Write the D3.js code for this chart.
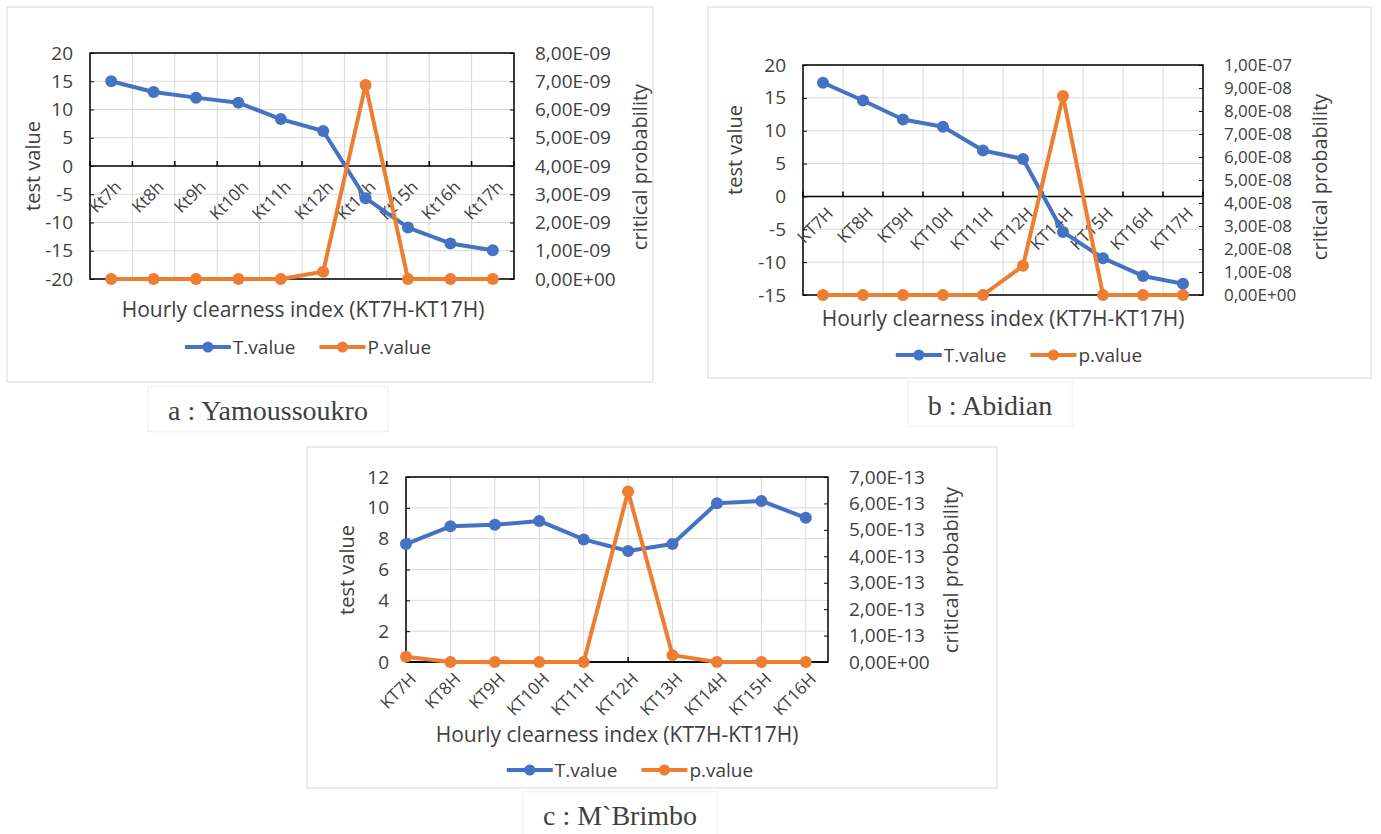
<!DOCTYPE html>
<html>
<head>
<meta charset="utf-8">
<script src="https://cdn.jsdelivr.net/npm/d3@7"></script>
<style>
  body { margin: 0; background: #fff; }
  text { font-family: "Open Sans", sans-serif; fill: #404040; }
</style>
</head>
<body>
<svg id="chart" width="1381" height="834"></svg>
<script>
// a : Yamoussoukro
const catsA = ["Kt7h", "Kt8h", "Kt9h", "Kt10h", "Kt11h", "Kt12h", "Kt14h", "Kt15h", "Kt16h", "Kt17h"];
const tValA = [15.0, 13.1, 12.1, 11.2, 8.3, 6.2, -5.7, -10.9, -13.7, -14.9];
const pValA = [0, 0, 0, 0, 0, 0.26e-9, 6.87e-9, 0, 0, 0];
const leftTicksA = [-20, -15, -10, -5, 0, 5, 10, 15, 20];
const rightTicksA = [0, 1e-9, 2e-9, 3e-9, 4e-9, 5e-9, 6e-9, 7e-9, 8e-9];

// b : Abidian
const catsB = ["KT7H", "KT8H", "KT9H", "KT10H", "KT11H", "KT12H", "KT14H", "KT15H", "KT16H", "KT17H"];
const tValB = [17.3, 14.6, 11.7, 10.6, 7.0, 5.7, -5.4, -9.4, -12.1, -13.3];
const pValB = [0, 0, 0, 0, 0, 1.27e-8, 8.65e-8, 0, 0, 0];
const leftTicksB = [-15, -10, -5, 0, 5, 10, 15, 20];
const rightTicksB = [0, 1e-8, 2e-8, 3e-8, 4e-8, 5e-8, 6e-8, 7e-8, 8e-8, 9e-8, 1e-7];

// c : M`Brimbo
const catsC = ["KT7H", "KT8H", "KT9H", "KT10H", "KT11H", "KT12H", "KT13H", "KT14H", "KT15H", "KT16H"];
const tValC = [7.65, 8.8, 8.9, 9.15, 7.95, 7.2, 7.65, 10.3, 10.45, 9.35];
const pValC = [0.2e-13, 0, 0, 0, 0, 6.45e-13, 0.26e-13, 0, 0, 0];
const leftTicksC = [0, 2, 4, 6, 8, 10, 12];
const rightTicksC = [0, 1e-13, 2e-13, 3e-13, 4e-13, 5e-13, 6e-13, 7e-13];

const blue = "#4472C4", orange = "#ED7D31";
const svg = d3.select("#chart");

// 8e-9 -> "8,00E-09" (excel style with decimal comma)
function sci(v) {
  if (v === 0) return "0,00E+00";
  const parts = v.toExponential(2).split("e");
  const n = +parts[1];
  return parts[0].replace(".", ",") + "E" + (n < 0 ? "-" : "+") + String(Math.abs(n)).padStart(2, "0");
}

function drawPanel(p) {
  const g = svg.append("g");

  g.append("rect")
    .attr("x", p.box[0]).attr("y", p.box[1])
    .attr("width", p.box[2]).attr("height", p.box[3])
    .attr("fill", "#fff").attr("stroke", "#d9d9d9");

  const yL = d3.scaleLinear().domain(d3.extent(p.leftTicks)).range([p.y1, p.y0]);
  const yR = d3.scaleLinear().domain(d3.extent(p.rightTicks)).range([p.y1, p.y0]);

  let pos, gridX;
  if (p.onTicks) {
    // points sit on the tick marks, last half step left empty
    const step = (p.x1 - p.x0) / (p.cats.length - 0.5);
    const x = d3.scalePoint().domain(p.cats).range([p.x0, p.x0 + step * (p.cats.length - 1)]);
    pos = d => x(d);
    gridX = p.cats.map(d => x(d));
  } else {
    const x = d3.scaleBand().domain(p.cats).range([p.x0, p.x1]);
    pos = d => x(d) + x.bandwidth() / 2;
    gridX = p.cats.map(d => x(d)).concat([p.x1]);
  }

  // gridlines
  g.append("g").selectAll("line").data(p.leftTicks).join("line")
    .attr("x1", p.x0).attr("x2", p.x1)
    .attr("y1", d => yL(d)).attr("y2", d => yL(d))
    .attr("stroke", "#d9d9d9").attr("stroke-width", 1);
  g.append("g").selectAll("line").data(gridX).join("line")
    .attr("x1", d => d).attr("x2", d => d)
    .attr("y1", p.y0).attr("y2", p.y1)
    .attr("stroke", "#d9d9d9").attr("stroke-width", 1);

  // left axis
  const la = g.append("g").attr("transform", `translate(${p.x0},0)`)
    .call(d3.axisLeft(yL).tickValues(p.leftTicks).tickFormat(d => String(d))
      .tickSizeInner(-4).tickSizeOuter(0).tickPadding(17));
  la.select(".domain").remove();
  la.selectAll("line").attr("stroke", "#000");
  la.selectAll("text").style("font-size", "19px").attr("fill", "#404040");

  // right axis
  const ra = g.append("g").attr("transform", `translate(${p.x1},0)`)
    .call(d3.axisRight(yR).tickValues(p.rightTicks).tickFormat(sci)
      .tickSizeInner(-4).tickSizeOuter(0).tickPadding(21));
  ra.select(".domain").remove();
  ra.selectAll("line").attr("stroke", "#000");
  ra.selectAll("text").style("font-size", p.rightFont + "px").attr("fill", "#404040");

  // plot frame
  g.append("rect")
    .attr("x", p.x0).attr("y", p.y0)
    .attr("width", p.x1 - p.x0).attr("height", p.y1 - p.y0)
    .attr("fill", "none").attr("stroke", "#000").attr("stroke-width", 1.5);

  // category axis at zero
  const y0 = yL(0);
  g.append("line")
    .attr("x1", p.x0).attr("x2", p.x1).attr("y1", y0).attr("y2", y0)
    .attr("stroke", "#000").attr("stroke-width", 1.5);
  g.append("g").selectAll("line").data(gridX).join("line")
    .attr("x1", d => d).attr("x2", d => d)
    .attr("y1", y0).attr("y2", y0 - 5)
    .attr("stroke", "#000").attr("stroke-width", 1.5);

  g.append("g").selectAll("text").data(p.cats).join("text")
    .attr("transform", d => `translate(${pos(d) + 7},${y0 + p.labelDy}) rotate(-45)`)
    .attr("text-anchor", "end")
    .attr("dy", "0.35em")
    .style("font-size", "17px")
    .text(d => d);

  // series
  const series = [
    { vals: p.tVals, y: yL, color: blue },
    { vals: p.pVals, y: yR, color: orange }
  ];
  series.forEach(s => {
    const line = d3.line().x((d, i) => pos(p.cats[i])).y(d => s.y(d));
    g.append("path").datum(s.vals)
      .attr("d", line)
      .attr("fill", "none").attr("stroke", s.color)
      .attr("stroke-width", 4).attr("stroke-linejoin", "round");
    g.append("g").selectAll("circle").data(s.vals).join("circle")
      .attr("cx", (d, i) => pos(p.cats[i]))
      .attr("cy", d => s.y(d))
      .attr("r", 6)
      .attr("fill", s.color);
  });

  // axis titles
  g.append("text")
    .attr("transform", `translate(${p.leftTitle[0]},${p.leftTitle[1]}) rotate(-90)`)
    .attr("text-anchor", "middle").attr("dy", "0.35em")
    .style("font-size", "20px").text("test value");
  g.append("text")
    .attr("transform", `translate(${p.rightTitle[0]},${p.rightTitle[1]}) rotate(-90)`)
    .attr("text-anchor", "middle").attr("dy", "0.35em")
    .style("font-size", "20px").text("critical probability");
  g.append("text")
    .attr("x", p.xTitle[0]).attr("y", p.xTitle[1])
    .attr("text-anchor", "middle").attr("dy", "0.35em")
    .style("font-size", "21px").text("Hourly clearness index (KT7H-KT17H)");

  // legend
  const lg = g.append("g");
  const items = [{ name: "T.value", color: blue }, { name: p.pName, color: orange }];
  let cx = 0;
  items.forEach(it => {
    const ig = lg.append("g").attr("transform", `translate(${cx},0)`);
    ig.append("line").attr("x1", 0).attr("x2", 46).attr("y1", 0).attr("y2", 0)
      .attr("stroke", it.color).attr("stroke-width", 4);
    ig.append("circle").attr("cx", 23).attr("cy", 0).attr("r", 5.5).attr("fill", it.color);
    const t = ig.append("text").attr("x", 48).attr("dy", "0.35em")
      .style("font-size", "19px").text(it.name);
    cx += 48 + t.node().getComputedTextLength() + 24;
  });
  const lw = cx - 24;
  lg.attr("transform", `translate(${p.legend[0] - lw / 2},${p.legend[1]})`);

  // caption under the panel
  const cg = g.append("g");
  const frame = cg.append("rect").attr("fill", "#fff").attr("stroke", "#eeeeee");
  const cap = cg.append("text")
    .attr("x", p.caption[0]).attr("y", p.caption[1])
    .attr("text-anchor", "middle").attr("dy", "0.35em")
    .style("font-family", "'Liberation Serif', 'Times New Roman', serif")
    .style("font-size", "28px").attr("fill", "#111")
    .text(p.captionText);
  const bb = cap.node().getBBox();
  frame.attr("x", bb.x - 20).attr("y", bb.y - 8)
    .attr("width", bb.width + 40).attr("height", bb.height + 14);
}

drawPanel({
  cats: catsA, tVals: tValA, pVals: pValA, leftTicks: leftTicksA, rightTicks: rightTicksA,
  box: [7, 7, 646, 375], x0: 90, x1: 514, y0: 53, y1: 279, onTicks: false, labelDy: 18, rightFont: 19,
  leftTitle: [33, 166], rightTitle: [640, 167], xTitle: [303, 310], legend: [308, 347],
  pName: "P.value", captionText: "a : Yamoussoukro", caption: [268, 410]
});

drawPanel({
  cats: catsB, tVals: tValB, pVals: pValB, leftTicks: leftTicksB, rightTicks: rightTicksB,
  box: [708, 7, 663, 371], x0: 803, x1: 1203, y0: 65, y1: 295, onTicks: false, labelDy: 14, rightFont: 17,
  leftTitle: [735, 150], rightTitle: [1320, 177], xTitle: [1003, 319], legend: [1019, 355],
  pName: "p.value", captionText: "b : Abidian", caption: [990, 405]
});

drawPanel({
  cats: catsC, tVals: tValC, pVals: pValC, leftTicks: leftTicksC, rightTicks: rightTicksC,
  box: [307, 447, 690, 341], x0: 406, x1: 828, y0: 477, y1: 662, onTicks: true, labelDy: 14, rightFont: 19,
  leftTitle: [347, 570], rightTitle: [951, 570], xTitle: [617, 735], legend: [630, 770],
  pName: "p.value", captionText: "c : M`Brimbo", caption: [620, 815]
});
</script>
</body>
</html>
